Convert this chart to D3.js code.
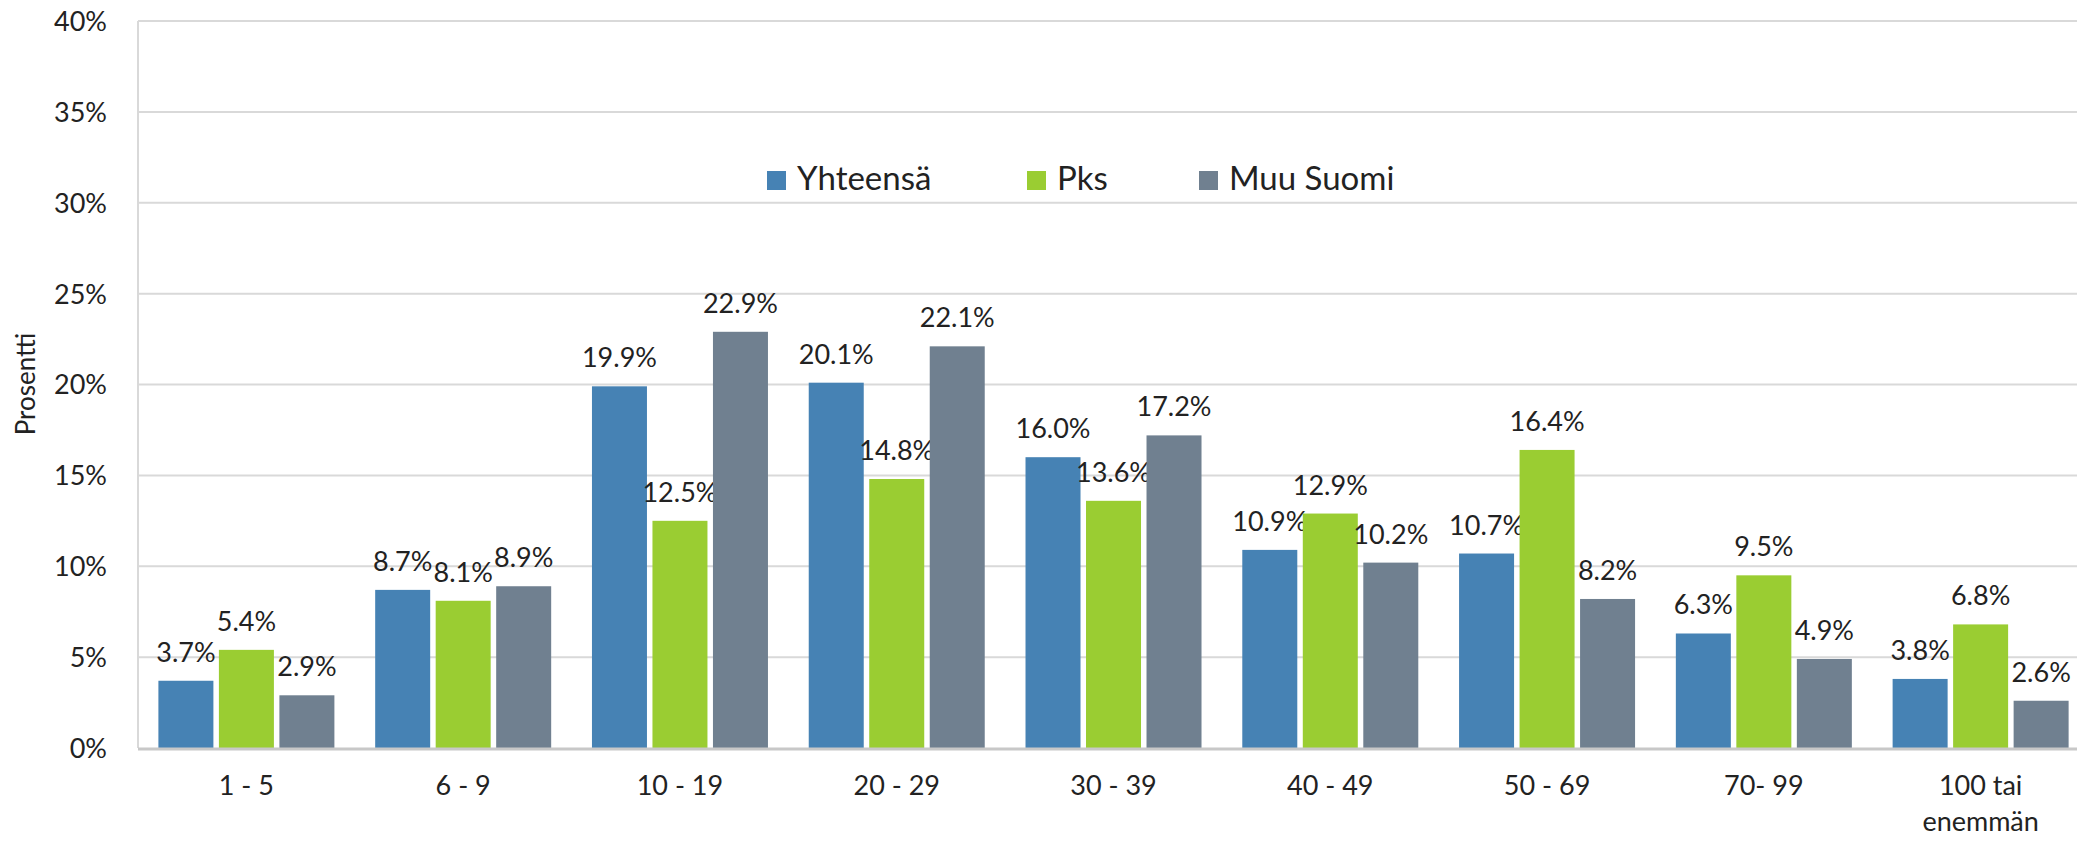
<!DOCTYPE html>
<html>
<head>
<meta charset="utf-8">
<script src="https://cdn.jsdelivr.net/npm/d3@7"></script>
<style>
  html, body { margin: 0; padding: 0; background: #fff; overflow: hidden; }
  svg { display: block; font-family: Lato, "Open Sans", sans-serif; }
</style>
</head>
<body>
<svg id="chart" width="2077" height="842"></svg>
<script>
const categories = ["1 - 5", "6 - 9", "10 - 19", "20 - 29", "30 - 39", "40 - 49", "50 - 69", "70- 99", "100 tai enemmän"];
const seriesNames = ["Yhteensä", "Pks", "Muu Suomi"];
const yhteensa = [3.7, 8.7, 19.9, 20.1, 16.0, 10.9, 10.7, 6.3, 3.8];
const pks = [5.4, 8.1, 12.5, 14.8, 13.6, 12.9, 16.4, 9.5, 6.8];
const muuSuomi = [2.9, 8.9, 22.9, 22.1, 17.2, 10.2, 8.2, 4.9, 2.6];
const yTicks = [0, 5, 10, 15, 20, 25, 30, 35, 40];
const colors = ["#4682B4", "#9ACD32", "#708090"];
const yTitle = "Prosentti";

const seriesValues = [yhteensa, pks, muuSuomi];

const svg = d3.select("#chart");
const plotLeft = 138, plotRight = 2089, plotTop = 21, plotBottom = 748;

const x = d3.scaleBand().domain(categories).range([plotLeft, plotRight]).padding(0);
const xs = d3.scaleBand().domain(seriesNames).range([20.4, 20.4 + 3 * 60.5]).padding(0);
const y = d3.scaleLinear().domain([0, 40]).range([plotBottom, plotTop]);

// gridlines
svg.append("g").selectAll("line").data(yTicks.filter(t => t > 0)).join("line")
  .attr("x1", plotLeft).attr("x2", 2077)
  .attr("y1", d => y(d)).attr("y2", d => y(d))
  .attr("stroke", "#d9d9d9").attr("stroke-width", 2);

// left axis line
svg.append("line").attr("x1", plotLeft).attr("x2", plotLeft).attr("y1", plotTop).attr("y2", plotBottom)
  .attr("stroke", "#d9d9d9").attr("stroke-width", 2);

// y axis
const yAxis = d3.axisLeft(y).tickValues(yTicks).tickFormat(d => d + "%").tickSize(0).tickPadding(0);
const gy = svg.append("g").attr("transform", `translate(107,0)`).call(yAxis);
gy.select(".domain").remove();
gy.selectAll("text").attr("font-size", 27).attr("fill", "#222").attr("font-family", "Lato, sans-serif").attr("dy", "0.35em");

// bars
const barW = xs.bandwidth() - 5.5;
seriesNames.forEach((s, si) => {
  const g = svg.append("g");
  g.selectAll("rect").data(categories).join("rect")
    .attr("x", c => x(c) + xs(s))
    .attr("y", (c, i) => y(seriesValues[si][i]))
    .attr("width", barW)
    .attr("height", (c, i) => y(0) - y(seriesValues[si][i]))
    .attr("fill", colors[si]);
  g.selectAll("text").data(categories).join("text")
    .attr("x", c => x(c) + xs(s) + barW / 2)
    .attr("y", (c, i) => y(seriesValues[si][i]) - 19)
    .attr("text-anchor", "middle")
    .attr("font-size", 27)
    .attr("fill", "#222")
    .text((c, i) => seriesValues[si][i].toFixed(1) + "%");
});

// bottom axis line
svg.append("line").attr("x1", plotLeft).attr("x2", 2077).attr("y1", plotBottom + 1).attr("y2", plotBottom + 1)
  .attr("stroke", "#c8c8c8").attr("stroke-width", 3);

// x axis labels
const xAxis = d3.axisBottom(x).tickSize(0).tickPadding(0);
const gx = svg.append("g").attr("transform", `translate(0,${plotBottom})`).call(xAxis);
gx.select(".domain").remove();
gx.selectAll("text").attr("font-size", 27).attr("fill", "#222").attr("font-family", "Lato, sans-serif")
  .each(function(d) {
    const t = d3.select(this);
    t.text(null).attr("y", 0).attr("dy", null);
    const parts = d === "100 tai enemmän" ? ["100 tai", "enemmän"] : [d];
    parts.forEach((p, i) => {
      t.append("tspan").attr("x", 0).attr("y", 47 + i * 36).text(p);
    });
  });

// y title
svg.append("text").attr("transform", "translate(35,384) rotate(-90)")
  .attr("text-anchor", "middle").attr("font-size", 26).attr("fill", "#222").text(yTitle);

// legend
const legendX = [767, 1027, 1199];
const lg = svg.append("g");
seriesNames.forEach((s, i) => {
  lg.append("rect").attr("x", legendX[i]).attr("y", 171).attr("width", 19).attr("height", 19).attr("fill", colors[i]);
  lg.append("text").attr("x", legendX[i] + 30).attr("y", 190)
    .attr("font-size", 33).attr("fill", "#222").text(s);
});
</script>
</body>
</html>
